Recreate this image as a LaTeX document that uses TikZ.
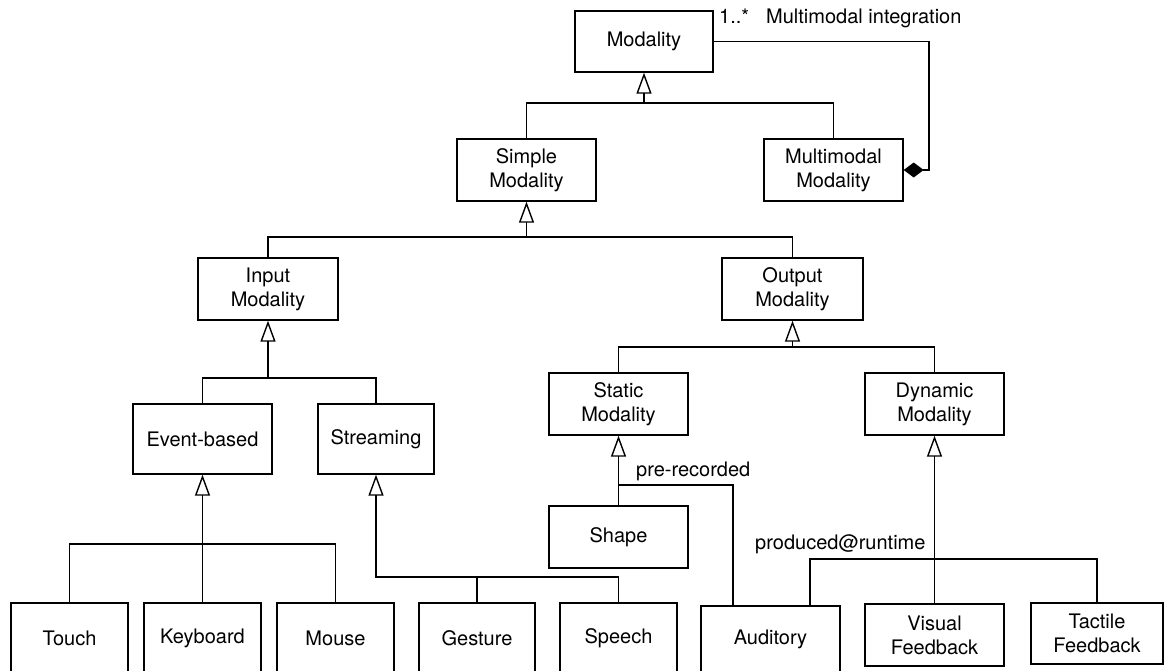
\documentclass[tikz,border=0pt]{standalone}
\usepackage{fontspec}
\setmainfont{TeX Gyre Heros}
\usetikzlibrary{arrows.meta}
\begin{document}
\begin{tikzpicture}[x=1pt,y=-1pt,
  txt/.style={font=\fontsize{20}{24}\selectfont},
  cls/.style n args={2}{draw, line width=1.4pt, txt, align=center, inner sep=0pt,
    minimum width=#1pt, minimum height=#2pt},
  lbl/.style={txt, inner sep=0pt},
  conn/.style={line width=1.4pt},
  gen/.style={conn, -{Triangle[open, length=21pt, width=15pt]}},
  comp/.style={conn, -{Diamond[length=20pt, width=15pt]}}
]
\useasboundingbox (0,0) rectangle (1164,670);

% classes
\node[cls={138}{61}] (mod)      at (644,41.5)  {Modality};
\node[cls={139}{62}] (simple)   at (526.5,170) {Simple\\Modality};
\node[cls={139}{62}] (multi)    at (833.5,170) {Multimodal\\Modality};
\node[cls={140}{62}] (input)    at (268,289)   {Input\\Modality};
\node[cls={141}{62}] (output)   at (792.5,289) {Output\\Modality};
\node[cls={139}{70}] (event)    at (202.5,439) {Event-based};
\node[cls={116}{70}] (stream)   at (376,439)   {Streaming};
\node[cls={139}{62}] (static)   at (618.5,404) {Static\\Modality};
\node[cls={139}{62}] (dynamic)  at (934.5,404) {Dynamic\\Modality};
\node[cls={139}{62}] (shape)    at (618.5,537) {Shape};
\node[cls={117}{70}] (touch)    at (69.5,638)  {Touch};
\node[cls={117}{70}] (keyboard) at (202.5,638) {Keyboard};
\node[cls={117}{70}] (mouse)    at (335.5,638) {Mouse};
\node[cls={116}{70}] (gesture)  at (477,638)   {Gesture};
\node[cls={117}{70}] (speech)   at (618.5,638) {Speech};
\node[cls={139}{66}] (auditory) at (770.5,639) {Auditory};
\node[cls={139}{62}] (visual)   at (934.5,635) {Visual\\Feedback};
\node[cls={132}{61}] (tactile)  at (1097,633.5) {Tactile\\Feedback};

% junction points of the generalization trees
\coordinate (j1) at (644,103);
\coordinate (j2) at (526.5,237);
\coordinate (j3) at (268,378);
\coordinate (j4) at (792.5,347);
\coordinate (j5) at (202.5,544);
\coordinate (j6) at (477,577);
\coordinate (j7) at (618.5,485);
\coordinate (j8) at (934.5,559);
\coordinate (c1) at (929,170);

% generalizations
\draw[gen] (j1) -- (mod.south);
\draw[conn] (simple.north) |- (j1) -| (multi.north);

\draw[gen] (j2) -- (simple.south);
\draw[conn] (input.north) |- (j2) -| (output.north);

\draw[gen] (j3) -- (input.south);
\draw[conn] (event.north) |- (j3) -| (stream.north);

\draw[gen] (j4) -- (output.south);
\draw[conn] (static.north) |- (j4) -| (dynamic.north);

\draw[gen] (keyboard.north) -- (event.south);
\draw[conn] (touch.north) |- (j5) -| (mouse.north);

\draw[gen] (j6) -| (stream.south);
\draw[conn] (gesture.north) -- (j6) -| (speech.north);

\draw[gen] (shape.north) -- (static.south);
\draw[conn] (j7) -| ([xshift=-37.5pt]auditory.north);

\draw[gen] (visual.north) -- (dynamic.south);
\draw[conn] ([xshift=39.5pt]auditory.north) |- (j8) -| (tactile.north);

% composition
\draw[comp] (mod.east) -| (c1) -- (multi.east);

% labels
\node[lbl, anchor=base west] (card)  at (719,23)  {1..*};
\node[lbl, anchor=base west] (assoc) at (766,23)  {Multimodal integration};
\node[lbl, anchor=base west] (pre)   at (636,476) {pre-recorded};
\node[lbl, anchor=base west] (run)   at (755,549) {produced@runtime};
\end{tikzpicture}
\end{document}
